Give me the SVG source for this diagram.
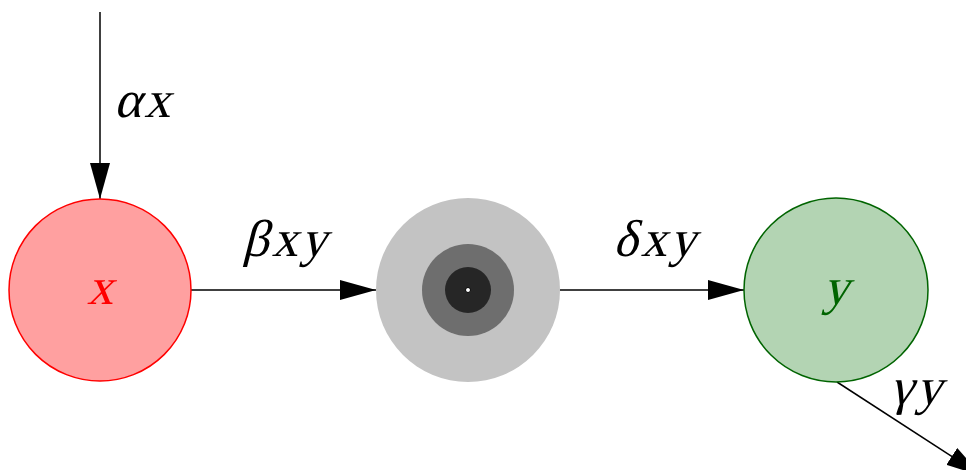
<svg xmlns="http://www.w3.org/2000/svg" width="966" height="470" viewBox="0 0 966 470">
  <style>
    .edge { stroke: #000; stroke-width: 1.5; fill: none; marker-end: url(#head); }
    .lbl { font-family: "Liberation Serif", "DejaVu Serif", serif; font-size: 52px; letter-spacing: 3px; fill: #000; }
    .node-lbl { font-family: "Liberation Serif", "DejaVu Serif", serif; font-size: 52px; text-anchor: middle; }
  </style>
  <defs>
    <marker id="head" markerUnits="userSpaceOnUse" markerWidth="36" markerHeight="20" refX="36" refY="10" orient="auto" viewBox="0 0 36 20">
      <path d="M0,0 L36,10 L0,20 z" fill="#000"/>
    </marker>
  </defs>
  <rect width="966" height="470" fill="#fff"/>

  <g id="connectors">
    <line class="edge" x1="100" y1="12" x2="100" y2="199"/>
    <line class="edge" x1="191" y1="290" x2="376" y2="290"/>
    <line class="edge" x1="560" y1="290" x2="744" y2="290"/>
    <line class="edge" x1="837" y1="382" x2="982" y2="476"/>
  </g>

  <g id="node-x">
    <circle cx="100" cy="290" r="91" fill="#ffa0a0" stroke="#ff0000" stroke-width="1.5"/>
    <!-- math-italic look: upright serif slanted by a skew -->
    <text class="node-lbl" transform="translate(100,304) skewX(-14)" fill="#ff0000">x</text>
  </g>

  <g id="node-complex">
    <circle cx="468" cy="290" r="92" fill="#c3c3c3"/>
    <circle cx="468" cy="290" r="46" fill="#6e6e6e"/>
    <circle cx="468" cy="290" r="23" fill="#262626"/>
    <circle cx="468" cy="290" r="2.5" fill="#fff" stroke="#000" stroke-width="1"/>
  </g>

  <g id="node-y">
    <circle cx="836" cy="290" r="92" fill="#b3d4b3" stroke="#006400" stroke-width="1.5"/>
    <text class="node-lbl" transform="translate(836,304) skewX(-14)" fill="#006400">y</text>
  </g>

  <g id="labels">
    <text class="lbl" transform="translate(114,117) skewX(-14)">αx</text>
    <text class="lbl" transform="translate(286,256) skewX(-14)" text-anchor="middle">βxy</text>
    <text class="lbl" transform="translate(656,256) skewX(-14)" text-anchor="middle">δxy</text>
    <text class="lbl" transform="translate(890,404) skewX(-14)">γy</text>
  </g>
</svg>
